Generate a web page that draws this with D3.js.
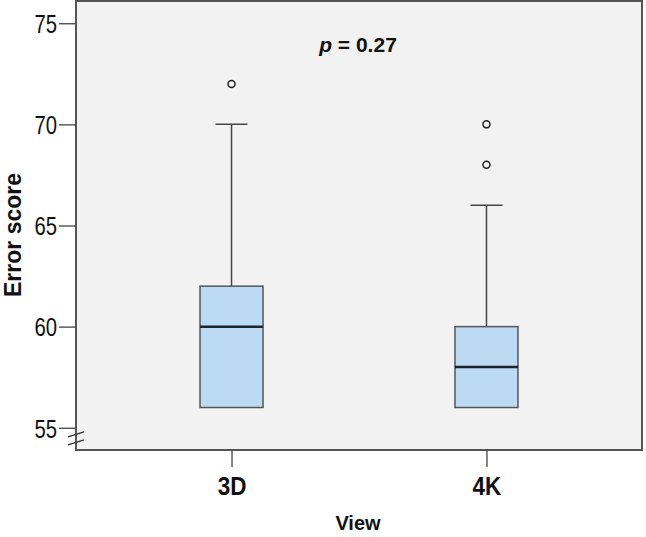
<!DOCTYPE html>
<meta charset="utf-8">
<style>
body { margin: 0; background: #fff; }
svg text { font-family: "Liberation Sans", Arial, sans-serif; fill: #111; }
.axis path, .axis line { stroke: #444; stroke-width: 1.3; }
</style>
<svg id="plot" width="646" height="537"></svg>
<script src="https://d3js.org/d3.v7.min.js"></script>
<script>

var groups = ["3D", "4K"];
var boxLow = [56, 56];
var boxQ1 = [56, 56];
var boxMedian = [60, 58];
var boxQ3 = [62, 60];
var boxHigh = [70, 66];
var outliers = [[72], [68, 70]];
var yTicks = [55, 60, 65, 70, 75];

var svg = d3.select("svg"),
    margin = {top: 1, right: 4, bottom: 87, left: 76},
    width = svg.attr("width") - margin.left - margin.right,
    height = svg.attr("height") - margin.top - margin.bottom;

var x = d3.scalePoint()
    .domain(groups)
    .range([0, width])
    .padding(0.61);

var y = d3.scaleLinear()
    .domain([53.9, 76.1])
    .range([height, 0]);

var g = svg.append("g")
    .attr("transform", "translate(" + margin.left + "," + margin.top + ")");

g.append("rect")
    .attr("width", width)
    .attr("height", height)
    .attr("fill", "#f2f2f2")
    .attr("stroke", "#555")
    .attr("stroke-width", 2);

// y axis
var yAxis = g.append("g")
    .attr("class", "axis")
    .call(d3.axisLeft(y).tickValues(yTicks).tickSize(17).tickPadding(3));
yAxis.select(".domain").remove();
yAxis.selectAll("text")
    .attr("x", 0)
    .attr("transform", "translate(-19,1) scale(0.78,1)")
    .style("font-size", "26px");

// break marks
[0, 8].forEach(function(off) {
  g.append("line")
      .attr("x1", -8).attr("y1", y(54.55) + off)
      .attr("x2", 8).attr("y2", y(54.55) + off - 5)
      .attr("stroke", "#333").attr("stroke-width", 1.5);
});

// x axis
var xAxis = g.append("g")
    .attr("class", "axis")
    .attr("transform", "translate(0," + height + ")")
    .call(d3.axisBottom(x).tickSize(17).tickPadding(7));
xAxis.select(".domain").remove();
xAxis.selectAll("text")
    .attr("y", 0)
    .attr("dy", 0)
    .attr("transform", "translate(0,45) scale(0.9,1)")
    .style("font-weight", "bold")
    .style("font-size", "25px");

var boxW = 63, capW = 32;

groups.forEach(function(k, i) {
  var cx = x(k);
  var b = g.append("g");
  b.append("line")
      .attr("x1", cx).attr("x2", cx)
      .attr("y1", y(boxHigh[i])).attr("y2", y(boxQ3[i]))
      .attr("stroke", "#444").attr("stroke-width", 1.5);
  b.append("line")
      .attr("x1", cx - capW / 2).attr("x2", cx + capW / 2)
      .attr("y1", y(boxHigh[i])).attr("y2", y(boxHigh[i]))
      .attr("stroke", "#444").attr("stroke-width", 1.5);
  b.append("line")
      .attr("x1", cx).attr("x2", cx)
      .attr("y1", y(boxLow[i])).attr("y2", y(boxQ1[i]))
      .attr("stroke", "#444").attr("stroke-width", 1.5);
  b.append("rect")
      .attr("x", cx - boxW / 2)
      .attr("y", y(boxQ3[i]))
      .attr("width", boxW)
      .attr("height", y(boxQ1[i]) - y(boxQ3[i]))
      .attr("fill", "#bcdaf3")
      .attr("stroke", "#555")
      .attr("stroke-width", 1.5);
  b.append("line")
      .attr("x1", cx - boxW / 2).attr("x2", cx + boxW / 2)
      .attr("y1", y(boxMedian[i])).attr("y2", y(boxMedian[i]))
      .attr("stroke", "#1a2530").attr("stroke-width", 2.5);
  b.selectAll("circle").data(outliers[i]).enter().append("circle")
      .attr("cx", cx)
      .attr("cy", function(d) { return y(d); })
      .attr("r", 3.5)
      .attr("fill", "none")
      .attr("stroke", "#222")
      .attr("stroke-width", 1.5);
});

// p value
var pt = g.append("text")
    .attr("x", width / 2 - 1)
    .attr("y", 51)
    .attr("text-anchor", "middle")
    .style("font-size", "21px")
    .style("font-weight", "bold");
pt.append("tspan").style("font-style", "italic").text("p");
pt.append("tspan").text(" = 0.27");

// axis titles
svg.append("text")
    .attr("x", 358)
    .attr("y", 530)
    .attr("text-anchor", "middle")
    .style("font-size", "20px")
    .style("font-weight", "bold")
    .text("View");

svg.append("text")
    .attr("transform", "translate(21,235) rotate(-90)")
    .attr("text-anchor", "middle")
    .style("font-size", "23px")
    .style("font-weight", "bold")
    .text("Error score");

</script>
